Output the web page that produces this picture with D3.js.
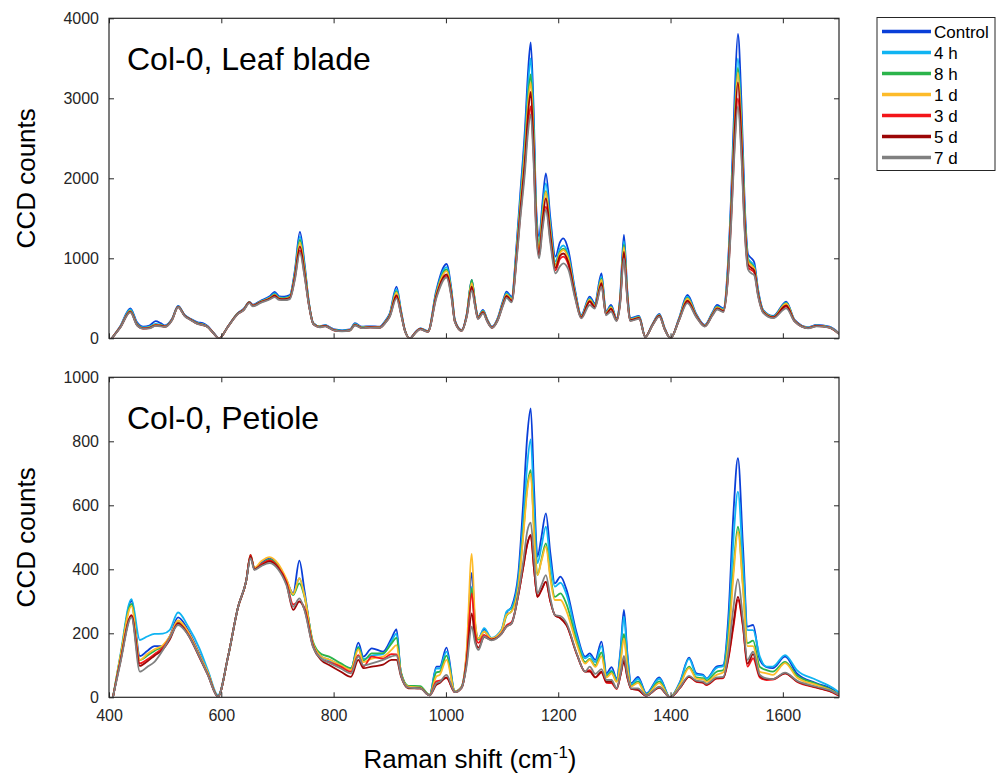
<!DOCTYPE html>
<html><head><meta charset="utf-8">
<script src="https://cdn.jsdelivr.net/npm/d3@7"></script>
<style>
body{margin:0;background:#fff;}
text{font-family:"Liberation Sans",Arial,sans-serif;}
</style></head>
<body><svg id="c" width="997" height="775"></svg>
<script>
// ---------- DATA ----------
const seriesNames = ["Control","4 h","8 h","1 d","3 d","5 d","7 d"];
const xTickValues = [400,600,800,1000,1200,1400,1600];
const yTicksTop = [0,1000,2000,3000,4000];
const yTicksBottom = [0,200,400,600,800,1000];

// Leaf blade (top) wavenumber grid
const xTop = [405,420,438,450,461,472,483,492,500,512,
 523,535,545,558,567,576,586,596,612,629,
 640,650,656,670,687,695,703,712,722,731,
 740,748,756,764,775,785,793,802,815,829,
 838,850,865,882,892,900,912,920,927,936,
 946,954,968,983,1001,1010,1016,1028,1037,1046,
 1052,1057,1066,1074,1082,1092,1102,1108,1117,1126,
 1132,1141,1146,1151,1156,1161,1166,1172,1178,1186,
 1195,1203,1209,1218,1230,1241,1256,1265,1277,1285,
 1294,1304,1310,1317,1323,1328,1344,1355,1368,1380,
 1390,1400,1415,1430,1446,1461,1475,1483,1494,1502,
 1508,1514,1520,1526,1532,1538,1544,1549,1556,1565,
 1583,1606,1621,1645,1660,1683,1700];

const leafControl = [0,150,375,200,145,160,215,190,160,240,
 404,290,245,200,190,150,70,0,150,312,
 370,455,420,470,530,580,525,520,540,850,
 1330,950,450,190,150,165,140,110,100,110,
 190,145,150,145,220,312,645,350,104,0,
 80,125,91,604,929,600,229,104,300,729,
 450,270,354,230,145,250,479,583,520,1190,
 1770,2645,3300,3700,2900,1600,1270,1700,2062,1500,
 1020,1200,1250,1104,604,291,520,437,812,333,
 416,250,500,1291,600,250,279,20,180,304,
 120,0,250,541,300,166,330,416,375,900,
 1800,3000,3804,3000,1700,1050,1000,950,604,354,
 279,458,229,137,166,145,62];
const leaf4h = [0,145,360,185,135,145,180,170,155,235,
 398,285,240,190,178,145,68,0,150,310,
 365,450,415,462,515,560,510,505,525,820,
 1270,910,440,185,148,160,135,105,95,105,
 180,138,145,140,210,300,615,335,100,0,
 78,122,88,580,890,575,220,100,290,710,
 440,262,345,222,140,240,462,565,505,1140,
 1700,2520,3130,3500,2760,1530,1200,1620,1937,1420,
 960,1120,1160,1040,580,280,500,420,770,320,
 400,240,475,1215,570,240,270,18,175,295,
 115,0,240,520,290,160,318,400,362,850,
 1690,2790,3500,2780,1600,1000,950,905,580,345,
 272,445,222,133,160,140,60];
const leaf8h = [0,140,345,175,128,138,170,165,150,232,
 395,282,238,186,172,143,66,0,148,308,
 362,452,412,458,508,548,502,498,518,800,
 1230,890,435,182,146,158,132,102,93,102,
 175,135,142,138,205,292,590,328,98,0,
 76,120,86,565,860,560,215,98,290,730,
 440,258,338,218,138,235,452,552,492,1100,
 1640,2420,2980,3300,2620,1470,1150,1560,1840,1360,
 920,1080,1120,1005,560,272,490,410,745,315,
 392,235,462,1170,550,235,265,17,172,290,
 112,0,235,505,285,158,312,392,355,820,
 1640,2700,3380,2680,1550,975,925,885,570,340,
 268,438,220,131,158,138,58];
const leaf1d = [0,140,340,172,126,135,168,162,148,230,
 393,280,236,184,170,142,65,0,148,306,
 360,450,410,455,505,542,498,494,512,790,
 1200,870,430,180,145,156,130,100,92,100,
 172,133,140,136,202,288,575,322,96,0,
 75,118,85,555,840,548,212,96,285,690,
 430,255,333,215,136,232,445,545,485,1080,
 1610,2370,2900,3200,2540,1430,1120,1530,1830,1340,
 905,1065,1104,990,552,268,482,404,730,310,
 386,232,455,1140,540,232,262,17,170,287,
 110,0,232,495,282,156,308,386,350,805,
 1610,2650,3320,2630,1520,960,910,870,562,336,
 265,432,218,130,157,137,57];
const leaf3d = [0,135,330,165,122,128,160,155,145,225,
 390,278,233,180,166,140,63,0,146,303,
 355,445,405,448,495,525,486,482,498,750,
 1100,800,415,176,140,152,126,97,90,98,
 165,130,136,132,195,275,520,305,92,0,
 72,114,82,520,780,515,205,92,272,620,
 405,245,320,207,132,222,425,520,462,1010,
 1500,2180,2650,2900,2300,1320,1030,1400,1645,1230,
 850,990,1020,920,520,255,455,385,660,295,
 365,222,425,1040,500,222,250,16,165,278,
 105,0,225,455,270,150,295,368,335,740,
 1480,2420,3000,2380,1380,880,854,820,535,325,
 258,395,212,127,153,134,55];
const leaf5d = [0,137,333,167,123,130,162,157,146,227,
 392,280,235,182,168,141,64,0,147,305,
 358,448,408,452,500,535,492,488,505,770,
 1150,830,420,178,142,154,128,98,91,99,
 168,131,138,134,198,280,540,312,94,0,
 73,116,83,535,800,530,208,94,278,645,
 415,250,326,210,134,226,435,530,472,1040,
 1550,2260,2780,3080,2430,1380,1060,1460,1750,1290,
 880,1030,1060,950,535,260,465,392,690,300,
 372,226,438,1080,515,226,255,16,167,282,
 107,0,228,470,275,152,300,375,342,770,
 1560,2560,3200,2520,1450,920,880,845,548,330,
 261,410,214,128,155,135,56];
const leaf7d = [0,132,325,160,120,125,155,150,142,222,
 388,275,230,178,164,138,62,0,145,300,
 352,440,400,442,488,515,480,476,490,730,
 1070,780,410,174,138,150,124,95,88,96,
 160,128,134,130,190,268,500,298,90,0,
 70,112,80,505,760,500,200,90,265,600,
 395,240,312,202,130,218,415,505,450,980,
 1460,2100,2560,2800,2220,1280,1000,1360,1604,1190,
 812,900,937,860,500,248,416,372,645,288,
 333,216,410,1000,485,216,242,15,162,272,
 102,0,220,440,262,146,288,360,328,720,
 1440,2350,2900,2300,1340,860,812,790,520,318,
 252,375,208,125,150,132,54];

// Petiole (bottom) wavenumber grid
const xBottom = [407,420,440,455,468,481,496,508,523,541,
 561,576,594,612,630,644,652,659,671,686,
 701,716,728,739,748,763,778,792,813,831,
 844,853,868,888,903,912,920,933,954,971,
 983,989,1001,1016,1028,1037,1046,1052,1058,1068,
 1081,1099,1108,1117,1129,1138,1145,1151,1157,1163,
 1170,1178,1186,1194,1204,1215,1233,1248,1256,1266,
 1277,1286,1295,1304,1311,1317,1323,1330,1342,1357,
 1380,1399,1417,1433,1446,1458,1464,1482,1494,1503,
 1512,1520,1529,1537,1547,1559,1571,1582,1604,1625,
 1660,1690,1700];

const petControl = [0,120,301,129,145,160,160,190,250,210,
 137,80,3,127,283,361,440,403,419,436,
 413,366,325,427,335,169,127,117,100,88,
 171,127,153,143,184,212,75,33,30,7,
 96,96,155,18,33,138,389,230,184,212,
 184,210,264,283,388,617,820,903,650,440,
 500,575,450,356,377,335,200,127,137,117,
 174,75,94,59,150,273,140,44,64,12,
 62,0,49,124,75,70,59,96,101,252,
 575,747,471,221,226,117,94,91,127,75,
 44,23,8];
const pet4h = [0,130,307,179,190,198,199,210,265,221,
 153,85,7,127,283,361,438,400,415,430,
 410,366,320,372,320,169,128,115,103,91,
 158,120,130,135,175,199,75,33,30,7,
 90,90,143,18,33,130,346,220,184,216,
 186,212,268,280,370,560,730,806,590,419,
 470,533,420,346,358,320,190,122,130,110,
 160,70,84,55,140,252,130,40,58,10,
 58,0,47,120,71,68,58,92,98,220,
 492,643,420,210,210,127,96,96,132,85,
 54,28,15];
const pet8h = [0,125,292,116,130,145,160,185,235,200,
 130,75,3,127,283,361,445,403,415,430,
 410,360,320,356,315,175,135,127,106,91,
 155,115,137,138,168,186,78,36,35,8,
 78,80,130,18,33,125,340,215,180,205,
 182,205,255,270,350,520,660,710,520,382,
 430,481,380,314,325,290,175,110,120,100,
 140,65,80,50,115,198,100,36,50,8,
 50,0,42,96,62,60,52,80,85,190,
 400,533,350,169,177,95,85,80,111,68,
 42,20,8];
const pet1d = [0,125,285,117,135,150,163,190,240,205,
 133,78,3,127,283,361,440,405,425,438,
 418,370,322,372,318,170,128,118,100,86,
 150,110,121,127,148,163,72,33,30,7,
 65,70,117,18,33,150,448,240,184,205,
 184,208,258,268,345,510,650,698,510,382,
 425,471,370,304,304,268,165,105,117,95,
 128,62,75,48,110,184,95,34,45,7,
 44,0,40,91,58,56,48,70,78,169,
 380,518,340,160,160,80,75,70,107,62,
 38,18,7];
const pet3d = [0,110,257,106,118,135,155,185,232,197,
 127,72,2,127,283,361,445,400,415,428,
 408,360,290,299,280,165,120,110,95,80,
 132,96,127,121,135,134,70,30,28,6,
 50,52,60,16,30,120,325,200,170,195,
 180,200,225,235,320,410,480,507,400,314,
 335,361,300,257,247,225,135,80,85,62,
 77,45,44,26,70,117,65,26,23,5,
 30,0,30,64,48,45,38,58,60,120,
 220,304,220,96,122,62,54,55,75,49,
 30,14,5];
const pet5d = [0,110,255,98,112,130,150,180,230,195,
 125,70,2,127,283,361,440,400,412,425,
 405,355,273,300,275,160,116,101,80,64,
 117,91,96,102,117,117,65,28,28,6,
 39,45,62,16,30,110,262,180,155,188,
 180,198,221,231,320,410,480,507,400,314,
 335,361,300,257,247,225,135,80,80,62,
 80,48,48,28,70,112,62,26,23,5,
 30,0,30,64,50,47,40,60,62,125,
 230,314,225,105,135,66,57,57,75,50,
 31,15,6];
const pet7d = [0,105,250,80,95,111,148,185,226,195,
 127,70,2,127,283,361,435,398,410,419,
 400,350,283,309,273,160,120,108,90,75,
 128,100,106,117,128,131,68,30,28,6,
 44,48,70,16,30,100,221,170,148,190,
 178,199,221,231,325,429,520,546,430,325,
 350,382,310,257,254,231,137,80,96,73,
 88,54,54,28,75,129,70,28,28,5,
 33,0,32,67,52,49,42,62,64,140,
 280,369,241,117,143,70,59,57,77,52,
 33,17,7];

const colors = ["#0a3fd8","#10b4f2","#2bb44b","#fdbb2a","#f3161a","#9c0606","#808080"];

// ---------- DRAW ----------
const svg = d3.select("#c");
const left = 109, right = 839;
const x = d3.scaleLinear().domain([400,1700]).range([left,right]);

const panels = [
  {top:18.3, bottom:338.3, ymax:4000, ticks:yTicksTop, label:"Col-0, Leaf blade", xs:xTop,
   data:[leafControl,leaf4h,leaf8h,leaf1d,leaf3d,leaf5d,leaf7d], showX:false},
  {top:377.3, bottom:697.3, ymax:1000, ticks:yTicksBottom, label:"Col-0, Petiole", xs:xBottom,
   data:[petControl,pet4h,pet8h,pet1d,pet3d,pet5d,pet7d], showX:true}
];

const frameColor = "#262626";
panels.forEach((p,pi)=>{
  const y = d3.scaleLinear().domain([0,p.ymax]).range([p.bottom,p.top]);
  const g = svg.append("g");
  const cid = "clip"+pi;
  svg.append("clipPath").attr("id",cid).append("rect")
    .attr("x",left).attr("y",p.top).attr("width",right-left).attr("height",p.bottom-p.top);

  const line = d3.line().x(d=>x(d[0])).y(d=>y(d[1])).curve(d3.curveMonotoneX);
  const lg = g.append("g").attr("clip-path",`url(#${cid})`);
  p.data.forEach((vals,i)=>{
    const pts = p.xs.map((xv,k)=>[xv,vals[k]]);
    lg.append("path").attr("d",line(pts)).attr("fill","none")
      .attr("stroke",colors[i]).attr("stroke-width",1.8).attr("stroke-linejoin","round");
  });

  // axes (ticks inward)
  const ax = d3.axisBottom(x).tickValues(xTickValues).tickSize(-5).tickPadding(12)
    .tickFormat(p.showX ? d3.format("d") : ()=>"");
  const axB = g.append("g").attr("transform",`translate(0,${p.bottom})`).call(ax);
  const axT = g.append("g").attr("transform",`translate(0,${p.top})`)
    .call(d3.axisTop(x).tickValues(xTickValues).tickSize(-5).tickFormat(()=>""));
  const ay = d3.axisLeft(y).tickValues(p.ticks).tickSize(-5).tickPadding(10).tickFormat(d3.format("d"));
  const axL = g.append("g").attr("transform",`translate(${left},0)`).call(ay);
  const axR = g.append("g").attr("transform",`translate(${right},0)`)
    .call(d3.axisRight(y).tickValues(p.ticks).tickSize(-5).tickFormat(()=>""));
  [axB,axT,axL,axR].forEach(a=>{
    a.select(".domain").remove();
    a.selectAll("line").attr("stroke",frameColor);
    a.selectAll("text").attr("fill","#262626").style("font-size","16px")
      .style("font-family","'Liberation Sans',Arial,sans-serif");
  });
  g.append("rect").attr("x",left).attr("y",p.top).attr("width",right-left).attr("height",p.bottom-p.top)
    .attr("fill","none").attr("stroke",frameColor).attr("stroke-width",1.2);

  g.append("text").attr("x",127).attr("y",p.top+51.5).text(p.label)
    .style("font-size","32px").attr("fill","#000");

  g.append("text").attr("transform",`translate(35,${(p.top+p.bottom)/2}) rotate(-90)`)
    .attr("text-anchor","middle").text("CCD counts").style("font-size","26px").attr("fill","#000");
});

// x label
const xl = svg.append("text").attr("x",470).attr("y",768).attr("text-anchor","middle")
  .style("font-size","26px").attr("fill","#000");
xl.append("tspan").text("Raman shift (cm");
xl.append("tspan").text("-1").attr("dy",-10).style("font-size","17px");
xl.append("tspan").text(")").attr("dy",10);

// legend
const leg = svg.append("g");
leg.append("rect").attr("x",877).attr("y",17.5).attr("width",118).attr("height",153)
  .attr("fill","#fff").attr("stroke",frameColor).attr("stroke-width",1);
seriesNames.forEach((n,i)=>{
  const yy = 31.5 + i*21;
  leg.append("line").attr("x1",882).attr("x2",931).attr("y1",yy).attr("y2",yy)
    .attr("stroke",colors[i]).attr("stroke-width",3.5);
  leg.append("text").attr("x",934).attr("y",yy+6).text(n).style("font-size","17px").attr("fill","#000");
});
</script></body></html>
